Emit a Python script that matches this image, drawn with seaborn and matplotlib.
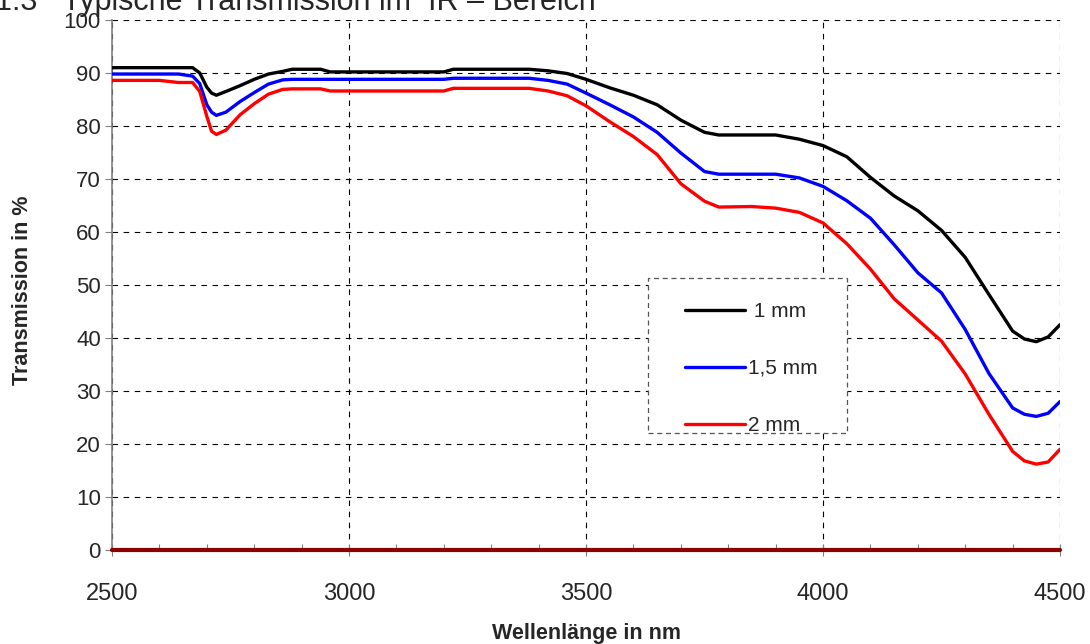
import matplotlib
matplotlib.use('Agg')
import matplotlib.pyplot as plt
import seaborn as sns
import numpy as np
import pandas as pd
from matplotlib.ticker import MultipleLocator
from matplotlib.lines import Line2D
from matplotlib.patches import Rectangle

# Wellenlaenge (nm) und Transmission (%) fuer drei Dicken
wellenlaenge = [2500, 2600, 2640, 2670, 2685, 2700, 2710, 2720, 2740, 2770,
                2800, 2830, 2860, 2880, 2940, 2960, 3200, 3220, 3380, 3420,
                3460, 3500, 3550, 3600, 3650, 3700, 3750, 3780, 3850, 3900,
                3950, 4000, 4050, 4100, 4150, 4200, 4250, 4300, 4350, 4400,
                4425, 4450, 4475, 4500]
t_1mm = [91.0, 91.0, 91.0, 91.0, 90.0, 87.3, 86.2, 85.8, 86.5, 87.6,
         88.8, 89.8, 90.3, 90.7, 90.7, 90.2, 90.2, 90.7, 90.7, 90.4,
         89.9, 88.8, 87.2, 85.8, 84.0, 81.1, 78.8, 78.3, 78.3, 78.3,
         77.5, 76.3, 74.2, 70.3, 66.8, 64.0, 60.3, 55.2, 48.2, 41.3,
         39.8, 39.3, 40.2, 42.5]
t_15mm = [89.8, 89.8, 89.8, 89.4, 88.0, 84.0, 82.6, 82.0, 82.6, 84.6,
          86.3, 87.9, 88.7, 88.8, 88.8, 88.8, 88.8, 89.0, 89.0, 88.6,
          87.9, 86.2, 84.0, 81.7, 78.8, 74.9, 71.4, 70.9, 70.9, 70.9,
          70.2, 68.6, 65.9, 62.6, 57.6, 52.3, 48.5, 41.6, 33.3, 26.8,
          25.6, 25.2, 25.8, 28.0]
t_2mm = [88.6, 88.6, 88.2, 88.2, 86.5, 81.8, 79.0, 78.4, 79.2, 82.1,
         84.2, 86.0, 86.9, 87.0, 87.0, 86.6, 86.6, 87.1, 87.1, 86.6,
         85.7, 83.8, 80.8, 78.0, 74.6, 69.1, 65.8, 64.7, 64.8, 64.5,
         63.7, 61.7, 57.8, 53.0, 47.4, 43.4, 39.4, 33.2, 25.6, 18.6,
         16.8, 16.2, 16.6, 19.0]
nulllinie = [0.0] * len(wellenlaenge)

serien = [' 1 mm', '1,5 mm', '2 mm', 'null']
farben = {' 1 mm': 'black', '1,5 mm': '#0000ff', '2 mm': '#ff0000', 'null': '#8b0000'}

df = pd.DataFrame({
    'nm': wellenlaenge * 4,
    'T': t_1mm + t_15mm + t_2mm + nulllinie,
    'Serie': [s for s in serien for _ in wellenlaenge],
})

sns.set_style('white')
plt.rcParams['font.family'] = ['Liberation Sans', 'DejaVu Sans']

fig = plt.figure(figsize=(10.9, 6.44), dpi=100)
ax = fig.add_axes([0.1028, 0.146, 0.8697, 0.823])

sns.lineplot(data=df[df['Serie'] != 'null'], x='nm', y='T', hue='Serie',
             palette=farben, linewidth=2.4, ax=ax, legend=False, zorder=3)
sns.lineplot(data=df[df['Serie'] == 'null'], x='nm', y='T', color=farben['null'],
             linewidth=3, ax=ax, legend=False, zorder=3, clip_on=False)

ax.set_xlim(2500, 4500)
ax.set_ylim(0, 100)
ax.xaxis.set_major_locator(MultipleLocator(500))
ax.xaxis.set_minor_locator(MultipleLocator(100))
ax.yaxis.set_major_locator(MultipleLocator(10))

ax.grid(True, which='major', color='black', linestyle=(0, (5, 5)), linewidth=0.8)
for s in ['top', 'right', 'bottom']:
    ax.spines[s].set_visible(False)
ax.spines['left'].set_color('#808080')
ax.spines['left'].set_linewidth(1.2)

ax.tick_params(axis='y', which='major', direction='out', length=5, width=0.8,
               color='#808080', left=True, labelsize=16, pad=3)
ax.tick_params(axis='x', which='major', direction='inout', length=8, width=0.8,
               color='#808080', bottom=True, labelsize=17, pad=20)
ax.tick_params(axis='x', which='minor', direction='in', length=4, width=0.8,
               color='#808080', bottom=True)

ax.set_xlabel('Wellenlänge in nm', fontsize=15.5, fontweight='bold')
ax.set_ylabel('Transmission in %', fontsize=15.5, fontweight='bold')
ax.xaxis.label.set_va('center')
ax.yaxis.label.set_va('center')
ax.xaxis.set_label_coords(0.5, (550 - 634) / 530)
ax.yaxis.set_label_coords((22 - 112) / 948, 0.49)

# Legendenkasten (gestrichelt)
box = Rectangle(((648 - 112) / 948, (550 - 433) / 530), 199 / 948, 155 / 530,
                transform=ax.transAxes, facecolor='white', edgecolor='#555555',
                linestyle=(0, (4, 3)), linewidth=0.9, zorder=4)
ax.add_patch(box)

handles = [Line2D([], [], color=farben[s], linewidth=2.4) for s in serien[:3]]
leg = ax.legend(handles, serien[:3], loc='upper left',
                bbox_to_anchor=((685 - 112) / 948, (550 - 302) / 530),
                fontsize=15, frameon=False, handlelength=2.9, handletextpad=0.1,
                labelspacing=1.82, borderpad=0, borderaxespad=0)
leg.set_zorder(5)

fig.text(-0.005, 1 - 10 / 644, '1.3   Typische Transmission im  IR – Bereich',
         fontsize=22, va='baseline', ha='left')

fig.savefig('out.png', dpi=100)
